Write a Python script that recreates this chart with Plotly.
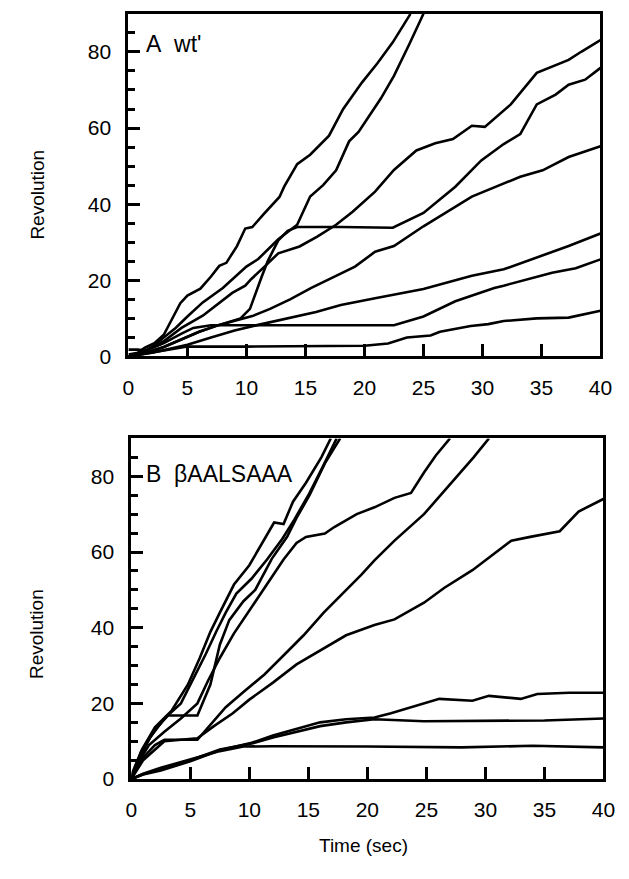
import plotly.graph_objects as go

# ---- Panel A: wild type (wt') revolution traces, (time s, revolutions) ----
wt_1 = [(0, 0.5), (0.8, 1.0), (1.4, 2.3), (2.2, 3.5), (3.0, 5.7), (3.7, 10.0), (4.4, 14.0),
        (5.0, 16.0), (6.1, 17.8), (7.0, 21.0), (7.7, 23.8), (8.3, 24.6), (9.2, 29.0),
        (9.9, 33.6), (10.5, 34.0), (11.5, 37.5), (12.8, 41.9), (13.2, 44.6), (14.3, 50.5),
        (15.4, 53.0), (17.0, 58.0), (18.2, 65.0), (19.8, 72.0), (21.1, 77.0), (22.4, 82.5),
        (23.9, 90.0)]
wt_2 = [(0, 0.0), (1.0, 0.8), (2.0, 2.5), (3.0, 5.0), (4.0, 7.5), (5.0, 10.5), (6.3, 14.2),
        (8.0, 18.0), (10.0, 23.6), (11.0, 25.6), (12.7, 30.8), (14.3, 34.6), (15.4, 42.0),
        (16.5, 45.0), (17.6, 48.9), (18.7, 56.5), (19.5, 59.0), (21.4, 67.8), (22.5, 73.7),
        (23.8, 82.0), (25.0, 90.0)]
wt_3 = [(0, 0.0), (1.5, 1.5), (3.0, 4.0), (4.5, 7.5), (6.3, 10.7), (7.5, 13.5), (8.8, 16.7),
        (9.9, 18.6), (10.4, 20.3), (11.6, 23.8), (12.7, 27.1), (14.5, 28.9), (16.0, 31.5),
        (17.6, 34.6), (19.0, 38.0), (20.9, 43.3), (22.5, 49.0), (24.4, 54.1), (26.0, 56.0),
        (27.5, 57.1), (29.1, 60.6), (30.2, 60.3), (32.4, 66.2), (34.6, 74.5), (35.7, 75.8),
        (37.3, 77.9), (38.4, 80.1), (40.0, 83.1)]
wt_4 = [(0, 0.0), (1.5, 1.0), (3.0, 2.5), (4.5, 4.5), (6.0, 6.5), (7.7, 8.3), (9.5, 10.0),
        (10.3, 12.5), (10.8, 17.0), (11.3, 21.0), (11.8, 25.0), (12.7, 30.5), (13.5, 33.0),
        (14.3, 34.0), (18.0, 34.0), (22.4, 33.8), (25.0, 37.7), (27.7, 44.6), (29.9, 51.5),
        (31.8, 55.8), (33.2, 58.4), (34.6, 66.2), (36.2, 68.8), (37.3, 71.4), (38.7, 72.7),
        (40.0, 75.8)]
wt_5 = [(0, 0.0), (1.5, 1.0), (3.0, 2.5), (4.5, 4.5), (6.0, 6.5), (7.7, 8.3), (10.5, 10.6),
        (12.0, 12.5), (13.7, 15.0), (15.5, 18.0), (17.5, 21.0), (19.2, 23.6), (20.9, 27.5),
        (22.5, 29.0), (25.0, 34.2), (29.1, 42.0), (33.2, 47.2), (35.1, 48.9), (37.3, 52.4),
        (40.0, 55.2)]
wt_6 = [(0, 0.0), (2.0, 1.0), (3.5, 2.0), (5.0, 3.1), (7.0, 5.0), (9.0, 6.8), (11.0, 8.3),
        (13.5, 10.0), (15.9, 11.7), (18.0, 13.5), (20.0, 14.8), (20.9, 15.3), (25.0, 17.7),
        (29.1, 21.2), (31.8, 22.9), (34.6, 26.0), (37.3, 29.0), (40.0, 32.3)]
wt_7 = [(0, 1.8), (0.8, 1.8), (1.5, 1.5), (3.0, 3.5), (4.5, 6.0), (5.5, 7.5), (7.0, 8.2),
        (12.0, 8.2), (17.0, 8.3), (22.5, 8.2), (25.0, 10.5), (27.7, 14.5), (31.0, 18.0),
        (31.8, 18.6), (35.9, 22.0), (37.9, 23.2), (40.0, 25.5)]
wt_8 = [(0, 0.0), (1.0, 0.5), (2.5, 1.2), (4.0, 2.0), (5.0, 2.6), (10.0, 2.6), (15.0, 2.7),
        (20.0, 2.8), (22.0, 3.4), (23.6, 5.0), (25.6, 5.5), (26.4, 6.5), (29.0, 8.0),
        (30.5, 8.5), (31.8, 9.3), (34.6, 10.0), (37.3, 10.2), (38.4, 11.0), (40.0, 12.0)]

# ---- Panel B: betaAALSAAA mutant revolution traces ----
mut_1 = [(0, 0.0), (0.1, 1.8), (0.9, 7.8), (2.0, 13.7), (3.4, 18.0), (4.8, 25.0), (5.8, 32.0),
         (6.7, 38.9), (7.5, 44.0), (8.7, 51.4), (10.0, 56.5), (11.6, 64.9), (12.1, 67.8),
         (12.9, 67.4), (13.7, 73.3), (14.8, 78.3), (16.1, 85.0), (16.9, 90.0)]
mut_2 = [(0, 0.0), (0.6, 5.0), (1.6, 11.0), (2.8, 16.0), (4.2, 20.0), (5.2, 26.0), (6.3, 33.0),
         (7.2, 39.0), (8.0, 44.0), (8.9, 49.0), (10.2, 53.0), (11.5, 58.0), (12.8, 63.5),
         (13.8, 68.5), (15.0, 75.0), (16.3, 83.0), (17.4, 90.0)]
mut_3 = [(0, 0.0), (0.8, 7.0), (2.0, 13.0), (3.1, 16.8), (5.6, 16.8), (6.7, 25.0), (7.5, 35.5),
         (8.3, 42.0), (9.5, 47.0), (10.5, 50.0), (11.9, 58.2), (13.2, 64.0), (14.0, 69.0),
         (15.1, 75.0), (16.4, 83.4), (17.7, 90.0)]
mut_4 = [(0, 0.0), (0.5, 4.0), (1.5, 9.0), (2.8, 12.5), (4.2, 16.0), (5.6, 20.0), (6.5, 26.0),
         (7.5, 32.0), (8.7, 38.5), (9.9, 44.0), (11.0, 49.2), (12.1, 54.0), (12.9, 58.0),
         (14.0, 62.4), (14.8, 64.0), (16.4, 64.9), (17.2, 66.6), (19.1, 70.0), (20.6, 71.8),
         (22.3, 74.3), (23.7, 75.6), (24.8, 81.0), (25.8, 85.5), (27.0, 90.0)]
mut_5 = [(0, 0.0), (0.8, 5.0), (2.0, 9.0), (2.8, 10.4), (5.6, 10.4), (8.0, 19.0), (9.5, 23.0),
         (11.3, 27.7), (13.0, 33.0), (14.6, 38.0), (16.3, 44.0), (17.9, 49.0), (19.5, 54.0),
         (20.6, 57.8), (22.3, 63.0), (24.8, 70.0), (27.5, 79.5), (29.0, 85.0), (30.3, 90.0)]
mut_6 = [(0, 0.0), (1.0, 5.0), (2.8, 10.0), (5.6, 10.8), (7.0, 14.0), (8.6, 17.4), (10.0, 21.0),
         (12.0, 25.5), (14.0, 30.3), (16.0, 34.0), (18.2, 38.0), (20.6, 40.7), (22.3, 42.2),
         (24.8, 46.6), (26.5, 50.5), (28.9, 55.2), (30.5, 59.0), (32.2, 63.0), (33.8, 64.0),
         (36.3, 65.5), (37.9, 70.7), (40.0, 74.0)]
mut_7 = [(0, 0.0), (1.0, 1.2), (2.5, 2.3), (5.0, 4.7), (7.5, 7.6), (10.2, 9.6), (12.0, 11.5),
         (14.0, 13.3), (16.0, 15.0), (18.2, 15.8), (20.6, 16.3), (22.0, 17.4), (24.8, 20.0),
         (26.1, 21.2), (28.9, 20.7), (30.3, 22.0), (33.0, 21.2), (34.4, 22.5), (37.1, 22.8),
         (40.0, 22.8)]
mut_8 = [(0, 0.0), (1.0, 1.3), (2.5, 2.6), (5.0, 5.0), (7.5, 7.8), (10.2, 9.4), (12.0, 11.0),
         (14.0, 12.6), (16.0, 14.0), (18.2, 15.0), (20.6, 15.8), (24.8, 15.3), (30.0, 15.4),
         (35.0, 15.5), (40.0, 16.0)]
mut_9 = [(0, 0.0), (1.0, 1.4), (2.5, 3.0), (5.0, 5.3), (7.5, 7.4), (9.5, 8.6), (12.0, 8.7),
         (20.0, 8.6), (28.0, 8.4), (34.0, 8.8), (40.0, 8.4)]

panel_a = [wt_1, wt_2, wt_3, wt_4, wt_5, wt_6, wt_7, wt_8]
panel_b = [mut_1, mut_2, mut_3, mut_4, mut_5, mut_6, mut_7, mut_8, mut_9]

x_ticks = list(range(0, 41, 5))
y_ticks = [0, 20, 40, 60, 80]

W, H = 629, 879
FONT = "Liberation Sans, Arial, Helvetica, sans-serif"
TICK_SIZE = 21
TITLE_SIZE = 19
LABEL_SIZE = 23

fig = go.Figure()
for trace in panel_a:
    fig.add_trace(go.Scatter(x=[p[0] for p in trace], y=[p[1] for p in trace],
                             mode="lines", line=dict(color="black", width=2.6),
                             xaxis="x", yaxis="y", showlegend=False, hoverinfo="skip"))
for trace in panel_b:
    fig.add_trace(go.Scatter(x=[p[0] for p in trace], y=[p[1] for p in trace],
                             mode="lines", line=dict(color="black", width=2.6),
                             xaxis="x2", yaxis="y2", showlegend=False, hoverinfo="skip"))


def px_dom(a, b, total, flip=False):
    if flip:
        return [1 - b / total, 1 - a / total]
    return [a / total, b / total]


xa = dict(range=[0, 40], tickmode="array", tickvals=x_ticks, ticks="inside", ticklen=12,
          tickwidth=2.5, tickcolor="black", showline=True, linewidth=3, linecolor="black",
          mirror=True, showgrid=False, zeroline=False, ticklabelstandoff=10,
          tickfont=dict(family=FONT, size=TICK_SIZE, color="black"))
ya = dict(range=[0, 90], tickmode="array", tickvals=y_ticks, ticks="inside", ticklen=12,
          tickwidth=2.5, tickcolor="black", showline=True, linewidth=3, linecolor="black",
          mirror=True, showgrid=False, zeroline=False, ticklabelstandoff=10,
          minor=dict(dtick=5, tick0=0, ticks="inside", ticklen=7, tickwidth=2.5,
                     tickcolor="black", showgrid=False),
          tickfont=dict(family=FONT, size=TICK_SIZE, color="black"))

fig.update_layout(
    width=W, height=H, margin=dict(l=0, r=0, t=0, b=0),
    paper_bgcolor="white", plot_bgcolor="white",
    xaxis=dict(xa, domain=px_dom(126, 612, W), anchor="y"),
    yaxis=dict(ya, domain=px_dom(14, 361, H, flip=True), anchor="x"),
    xaxis2=dict(xa, domain=px_dom(129, 615, W), anchor="y2"),
    yaxis2=dict(ya, domain=px_dom(444, 789, H, flip=True), anchor="x2"),
    annotations=[
        dict(text="A\u00a0\u00a0wt'", x=1.3, y=82, xref="x", yref="y", xanchor="left",
             yanchor="middle", showarrow=False,
             font=dict(family=FONT, size=LABEL_SIZE, color="black")),
        dict(text="B\u00a0\u00a0\u03b2AALSAAA", x=1.1, y=80.5, xref="x2", yref="y2",
             xanchor="left", yanchor="middle", showarrow=False,
             font=dict(family=FONT, size=LABEL_SIZE, color="black")),
        dict(text="Revolution", x=32 / W, y=1 - 197 / H, xref="paper", yref="paper",
             xanchor="center", yanchor="middle", textangle=-90, showarrow=False,
             font=dict(family=FONT, size=TITLE_SIZE, color="black")),
        dict(text="Revolution", x=32 / W, y=1 - 642 / H, xref="paper", yref="paper",
             xanchor="center", yanchor="middle", textangle=-90, showarrow=False,
             font=dict(family=FONT, size=TITLE_SIZE, color="black")),
        dict(text="Time (sec)", x=368 / W, y=1 - 856 / H, xref="paper", yref="paper",
             xanchor="center", yanchor="middle", showarrow=False,
             font=dict(family=FONT, size=TITLE_SIZE, color="black")),
    ],
)

fig.write_html("out.html")
